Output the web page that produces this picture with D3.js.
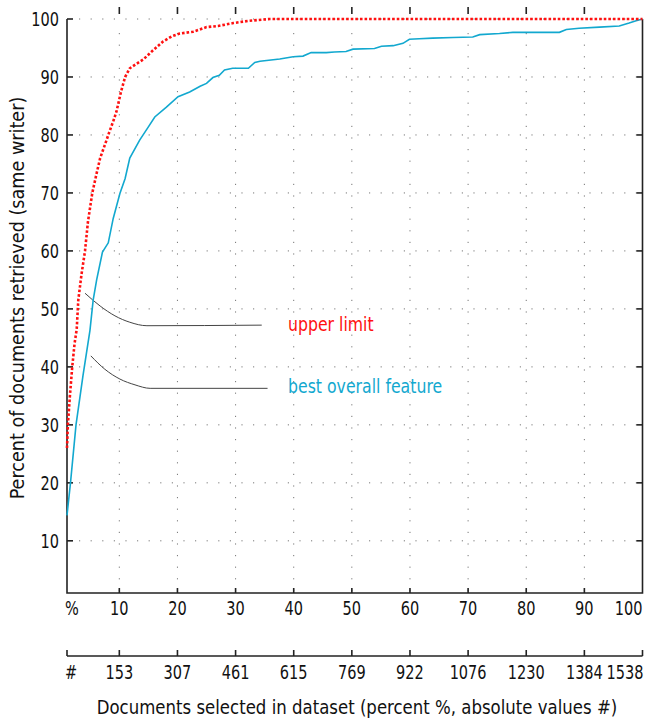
<!DOCTYPE html>
<html>
<head>
<meta charset="utf-8">
<script src="https://cdn.jsdelivr.net/npm/d3@7"></script>
<style>
  body { margin: 0; background: #fff; }
  svg { display: block; }
  text { font-family: "DejaVu Sans Condensed", "DejaVu Sans", sans-serif; fill: #111; }
</style>
</head>
<body>
<svg id="chart" width="645" height="719"></svg>
<script>
// percent of dataset selected (x) vs percent retrieved (y)
var upperX = [1, 1.15, 1.5, 1.9, 2.3, 2.67, 2.94, 3.5, 4.1, 4.6, 5.35, 6.1, 6.7, 7.8, 8.1, 9.0, 9.5, 10.3, 11, 11.8, 13, 14.1, 15.8, 17.5, 19, 20.4, 22.7, 25, 27, 29.6, 32.4, 35.9, 100];
var upperY = [26, 30, 35, 40, 44, 46.5, 51.5, 56, 60, 65, 70, 73.4, 76, 79.1, 80, 82.5, 84, 87.5, 90, 91.5, 92.3, 93, 94.6, 96.1, 97, 97.5, 97.8, 98.6, 98.8, 99.3, 99.7, 100, 100];

var bestX = [1, 1.6, 2.55, 3.75, 4.95, 5.5, 6.1, 7.1, 8.1, 8.95, 10.1, 11, 11.8, 13.5, 15, 16.1, 18.1, 20.1, 22.1, 23.9, 25, 26.1, 27.2, 28.1, 29.5, 32.2, 33.3, 34.2, 37.6, 39.9, 41.6, 43, 45.6, 47, 49, 50.2, 53.9, 55.1, 57.1, 58.8, 59.9, 61.6, 63.9, 67.4, 70.8, 72, 75.4, 77.7, 85.7, 86.9, 89.1, 92.6, 96, 97.7, 98.9, 100];
var bestY = [14.4, 20, 30, 38.5, 46.3, 51.5, 55, 59.8, 61.4, 65.6, 69.9, 72.5, 76, 79.1, 81.4, 83.1, 84.8, 86.6, 87.4, 88.4, 88.9, 89.9, 90.3, 91.2, 91.5, 91.5, 92.5, 92.7, 93.1, 93.5, 93.6, 94.2, 94.2, 94.3, 94.4, 94.8, 94.9, 95.3, 95.4, 95.8, 96.5, 96.6, 96.7, 96.8, 96.9, 97.3, 97.5, 97.7, 97.7, 98.2, 98.4, 98.6, 98.8, 99.3, 99.7, 100];

var yTicks = [10, 20, 30, 40, 50, 60, 70, 80, 90, 100];
var pctTicks = [10, 20, 30, 40, 50, 60, 70, 80, 90, 100];
var countLabels = ["153", "307", "461", "615", "769", "922", "1076", "1230", "1384", "1538"];

// leader lines for the labels (data units)
var upperLeadX = [4.1, 6.7, 9.25, 11.8, 14.75, 34.5];
var upperLeadY = [52.7, 50.5, 48.8, 47.7, 47.1, 47.2];
var bestLeadX = [5.1, 7.5, 10.1, 12.7, 15.3, 35.5];
var bestLeadY = [41.9, 39.6, 37.9, 36.9, 36.3, 36.3];

(function(){
var red = "#ff1010", cyan = "#12a8cf";

var svg = d3.select("#chart");
var L = 67, R = 642.5, T = 19, B = 593;

var x = d3.scaleLinear().domain([1, 100]).range([L, R]);
var y = d3.scaleLinear().domain([1, 100]).range([B, T]);

function zip(a, b) { return a.map(function(v, i){ return [v, b[i]]; }); }

// text squeezed horizontally to mimic the condensed face
function txt(g, px, py, s, size, sx, anchor, color) {
  var t = g.append("text")
    .attr("transform", "translate(" + px + "," + py + ") scale(" + sx + ",1)")
    .attr("font-size", size)
    .attr("text-anchor", anchor || "start")
    .text(s);
  if (color) t.style("fill", color);
  return t;
}

// grid
var grid = svg.append("g").attr("stroke", "#777").attr("stroke-width", 1).attr("stroke-dasharray", "1.2,10.4");
grid.selectAll("line.h").data(yTicks).enter().append("line")
  .attr("x1", L + 12).attr("x2", R)
  .attr("y1", function(d){ return y(d); }).attr("y2", function(d){ return y(d); });
grid.selectAll("line.v").data(pctTicks.slice(0, 9)).enter().append("line")
  .attr("x1", function(d){ return x(d); }).attr("x2", function(d){ return x(d); })
  .attr("y1", T + 14).attr("y2", B);

// frame
var frame = svg.append("g").attr("stroke", "#222").attr("stroke-width", 1.6).attr("fill", "none");
frame.append("path").attr("d", "M" + L + "," + T + "V" + B + "H" + R + "V" + T);

frame.selectAll("line.lt").data(yTicks).enter().append("line")
  .attr("x1", L).attr("x2", L + 6)
  .attr("y1", function(d){ return y(d); }).attr("y2", function(d){ return y(d); });
frame.selectAll("line.rt").data(yTicks.slice(0, 9)).enter().append("line")
  .attr("x1", R - 6).attr("x2", R)
  .attr("y1", function(d){ return y(d); }).attr("y2", function(d){ return y(d); });
frame.selectAll("line.bt").data(pctTicks.slice(0, 9)).enter().append("line")
  .attr("x1", function(d){ return x(d); }).attr("x2", function(d){ return x(d); })
  .attr("y1", B).attr("y2", B - 5);
// floating top ticks
frame.selectAll("line.tt").data(pctTicks.slice(0, 9)).enter().append("line")
  .attr("x1", function(d){ return x(d); }).attr("x2", function(d){ return x(d); })
  .attr("y1", 7).attr("y2", 14);

// y tick labels
var yl = svg.append("g");
yTicks.forEach(function(d){ txt(yl, L - 8, y(d) + 7, d, 19, 0.85, "end"); });

// % row
var pr = svg.append("g");
txt(pr, L - 2, 615, "%", 19, 0.85);
pctTicks.forEach(function(d){
  txt(pr, d === 100 ? R : x(d), 615, d, 19, 0.85, d === 100 ? "end" : "middle");
});

// # axis
var countY = 656;
var cax = svg.append("g").attr("stroke", "#222").attr("stroke-width", 1.6).attr("fill", "none");
cax.append("line").attr("x1", L).attr("x2", R).attr("y1", countY).attr("y2", countY);
cax.selectAll("line.ct").data([1].concat(pctTicks)).enter().append("line")
  .attr("x1", function(d){ return x(d); }).attr("x2", function(d){ return x(d); })
  .attr("y1", countY).attr("y2", countY - 6);
var cr = svg.append("g");
txt(cr, L - 2, 679, "#", 19, 0.85);
pctTicks.forEach(function(d, i){
  txt(cr, d === 100 ? R + 1 : x(d), 679, countLabels[i], 19, 0.85, d === 100 ? "end" : "middle");
});

// axis titles
txt(svg, 357, 714, "Documents selected in dataset (percent %, absolute values #)", 19, 0.97, "middle");
svg.append("text").attr("transform", "translate(24,298) rotate(-90)").attr("text-anchor", "middle")
  .attr("font-size", 19.6).text("Percent of documents retrieved (same writer)");

// leader lines
var lead = d3.line().x(function(d){ return x(d[0]); }).y(function(d){ return y(d[1]); }).curve(d3.curveMonotoneX);
svg.append("path").attr("d", lead(zip(upperLeadX, upperLeadY))).attr("fill", "none").attr("stroke", "#444").attr("stroke-width", 1);
svg.append("path").attr("d", lead(zip(bestLeadX, bestLeadY))).attr("fill", "none").attr("stroke", "#444").attr("stroke-width", 1);

// series
var line = d3.line().x(function(d){ return x(d[0]); }).y(function(d){ return y(d[1]); });
svg.append("path").attr("d", line(zip(bestX, bestY))).attr("fill", "none").attr("stroke", cyan).attr("stroke-width", 1.6);
svg.append("path").attr("d", line(zip(upperX, upperY))).attr("fill", "none").attr("stroke", red)
  .attr("stroke-width", 2.6).attr("stroke-dasharray", "2.6,2");

// series labels
txt(svg, 288, 331, "upper limit", 19, 0.92, "start", red);
txt(svg, 288, 393, "best overall feature", 19, 0.92, "start", cyan);
})();
</script>
</body>
</html>
